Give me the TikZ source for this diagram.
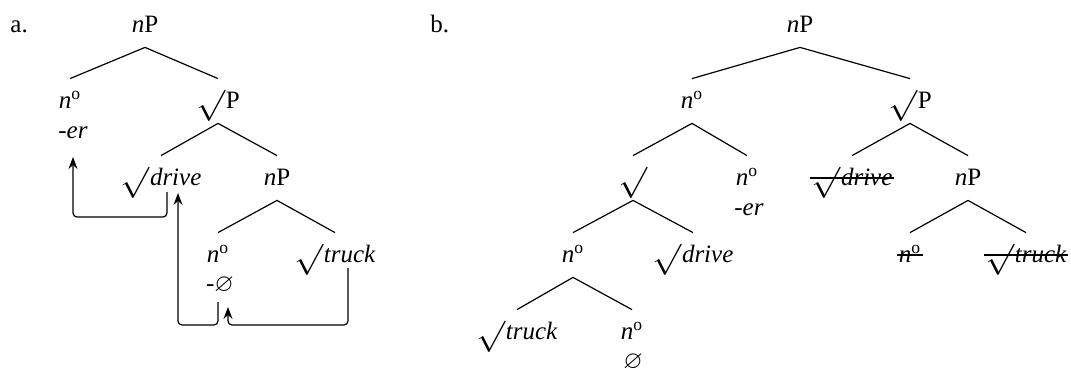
\documentclass[tikz,border=0pt]{standalone}
\usepackage{amssymb}
\usepackage{fontspec}
\setmainfont{Liberation Serif}
\usetikzlibrary{calc,arrows.meta}
\newcommand\rt{\raisebox{-2.7pt}{\scalebox{1.45}[1.3]{$\surd$}}\kern0.2pt}
\newcommand\nz{\textit{n}\textsuperscript{o}}
\tikzset{
  lab/.style={anchor=base,inner sep=0pt,font=\fontsize{12.5}{14}\selectfont,text height=14.5pt,text depth=7.5pt},
  leaf/.style={lab,text depth=0.5pt},
  sub/.style={anchor=base,inner sep=0pt,font=\fontsize{12.5}{14}\selectfont},
  branch/.style={line width=0.6pt},
  strike/.style={line width=1pt,shorten <=-0.5pt,shorten >=-0.5pt},
  mover/.style={line width=0.6pt,rounded corners=2pt,-{Stealth[length=6pt,width=4.5pt,inset=2pt]}},
}
\begin{document}
\begin{tikzpicture}[x=0.5pt,y=-0.5pt]
\useasboundingbox (0,0) rectangle (1071,370);
% ---------- panel a ----------
\node[sub,anchor=base west] (la) at (10,32) {a.};
\node[lab] (aNP) at (145,32) {\textit{n}P};
\node[leaf] (aN) at (70,108) {\nz};
\node[sub] (aEr) at (73,138) {\textit{-er}};
\node[lab] (aRP) at (218,108) {\rt P};
\node[lab] (aDrv) at (161,185) {\rt\textit{drive}};
\node[lab] (aNP2) at (277,185) {\textit{n}P};
\node[leaf] (aN2) at (218,262) {\nz};
\node[sub] (aNul) at (220,291) {-$\varnothing$};
\node[lab] (aTrk) at (335,262) {\rt\textit{truck}};
\draw[branch] (aNP.south) -- (aN.north);
\draw[branch] (aNP.south) -- (aRP.north);
\draw[branch] (aRP.south) -- (aDrv.north);
\draw[branch] (aRP.south) -- (aNP2.north);
\draw[branch] (aNP2.south) -- (aN2.north);
\draw[branch] (aNP2.south) -- (aTrk.north);
\draw[mover] ($(aDrv.base)+(6,7)$) -- ++(0,25) -| ($(aEr.base)+(0,19)$);
\draw[mover] ($(aNul.base)+(-2,11)$) -- ++(0,23) -| ($(aDrv.base)+(17,8)$);
\draw[mover] ($(aTrk.base)+(13,6)$) -- ++(0,57) -| ($(aNul.base)+(8,16)$);
% ---------- panel b ----------
\node[sub,anchor=base west] (lb) at (430,32) {b.};
\node[lab] (bNP) at (800,32) {\textit{n}P};
\node[lab] (bN) at (692,108) {\nz};
\node[lab] (bRP) at (910,108) {\rt P};
\node[lab] (bSq) at (633,185) {\rt};
\node[leaf] (bN2) at (747,185) {\nz};
\node[sub] (bEr) at (749,215) {\textit{-er}};
\node[lab] (bDrvS) at (852,185) {\rt\textit{drive}};
\node[lab] (bNP2) at (968,185) {\textit{n}P};
\node[lab] (bN3) at (573,262) {\nz};
\node[lab] (bDrv) at (693,262) {\rt\textit{drive}};
\node[lab] (bNs) at (910,262) {\nz};
\node[lab] (bTrkS) at (1026,262) {\rt\textit{truck}};
\node[lab] (bTrk) at (517,339) {\rt\textit{truck}};
\node[leaf] (bN4) at (632,339) {\nz};
\node[sub] (bNul) at (633,368) {$\varnothing$};
\draw[branch] (bNP.south) -- (bN.north);
\draw[branch] (bNP.south) -- (bRP.north);
\draw[branch] (bN.south) -- (bSq.north);
\draw[branch] (bN.south) -- (bN2.north);
\draw[branch] (bRP.south) -- (bDrvS.north);
\draw[branch] (bRP.south) -- (bNP2.north);
\draw[branch] (bSq.south) -- (bN3.north);
\draw[branch] (bSq.south) -- (bDrv.north);
\draw[branch] (bNP2.south) -- (bNs.north);
\draw[branch] (bNP2.south) -- (bTrkS.north);
\draw[branch] (bN3.south) -- (bTrk.north);
\draw[branch] (bN3.south) -- (bN4.north);
\draw[strike] (bDrvS.west) -- (bDrvS.east);
\draw[strike] (bNs.west) -- (bNs.east);
\draw[strike] (bTrkS.west) -- (bTrkS.east);
\end{tikzpicture}
\end{document}
